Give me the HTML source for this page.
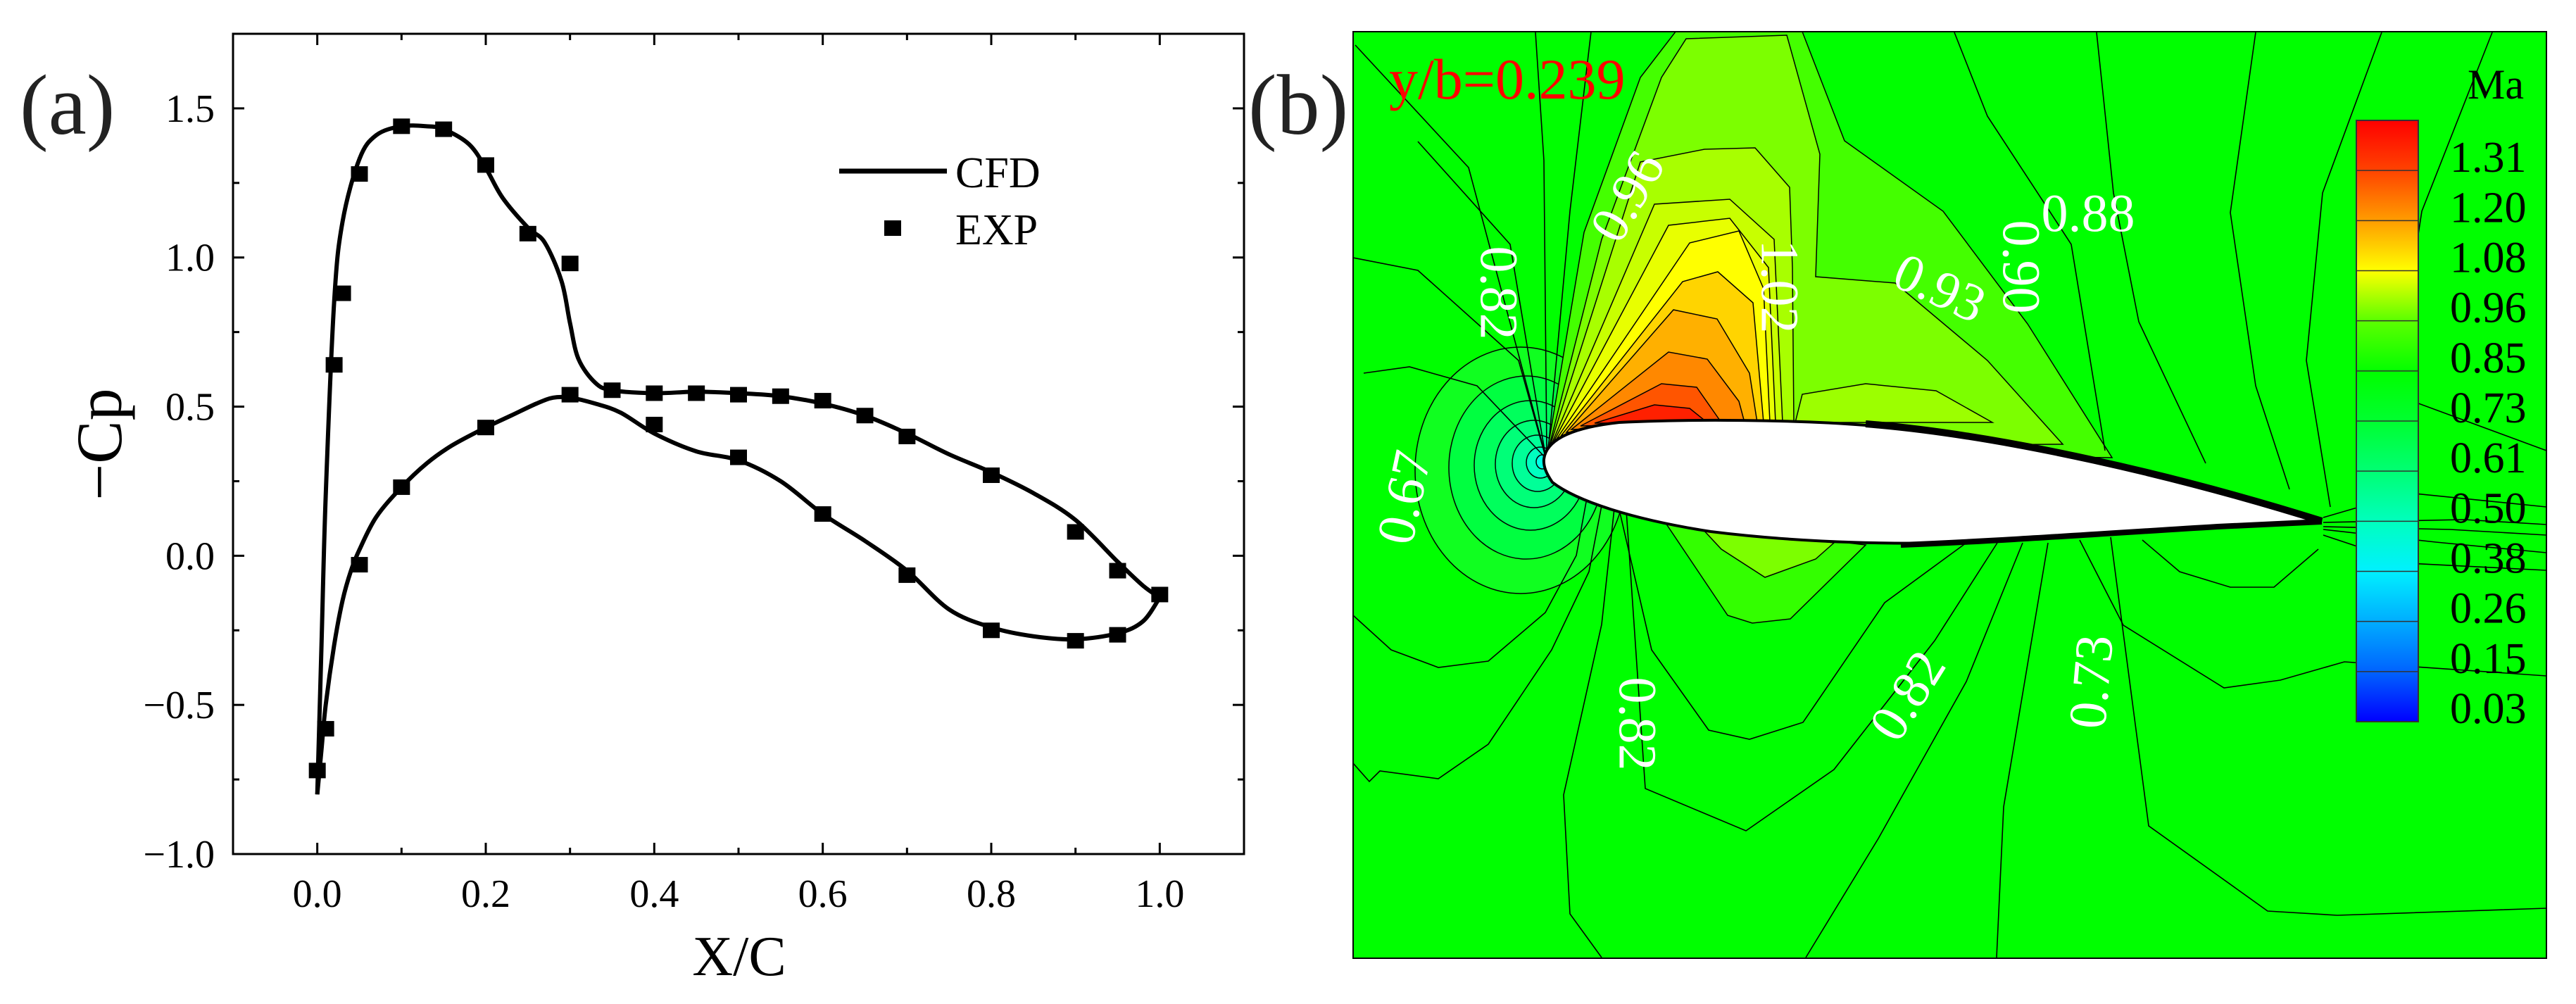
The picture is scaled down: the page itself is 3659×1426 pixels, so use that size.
<!DOCTYPE html>
<html><head><meta charset="utf-8">
<style>
html,body{margin:0;padding:0;background:#fff;}
svg{display:block;}
text{font-family:"Liberation Serif",serif;}
</style></head>
<body>
<svg id="fig" width="3659" height="1426" viewBox="0 0 3659 1426" xmlns="http://www.w3.org/2000/svg">
<rect x="0" y="0" width="3659" height="1426" fill="#fff"/>
<g id="panelA"></g>

<g id="panelB">
  <defs>
    <clipPath id="fclip"><rect x="1922" y="45" width="1695" height="1316"/></clipPath>
  </defs>
  <g clip-path="url(#fclip)">
    <rect x="1922" y="45" width="1695" height="1316" fill="#00ff00"/>
    <g stroke="#000" stroke-width="1.5">
      <ellipse cx="2160" cy="668" rx="150" ry="175" fill="#10ff20"/>
      <ellipse cx="2168" cy="664" rx="110" ry="130" fill="#00ff40"/>
      <ellipse cx="2174" cy="661" rx="80" ry="92" fill="#00ff5c"/>
      <ellipse cx="2179" cy="659" rx="55" ry="62" fill="#00ff78"/>
      <ellipse cx="2184" cy="658" rx="36" ry="40" fill="#00ff98"/>
      <ellipse cx="2188" cy="657" rx="20" ry="22" fill="#00ffc0"/>
      <ellipse cx="2191" cy="656" rx="9" ry="10" fill="#00ffe8"/>
    </g>
    <g stroke="#000" stroke-width="1.5">
      <polygon fill="#44ff00" points="2198,640 2250,330 2330,110 2380,45 2560,45 2620,200 2760,300 2880,460 3000,650"/>
      <polygon fill="#7cff00" points="2200,636 2275,340 2360,110 2395,55 2538,50 2585,219 2579,393 2692,402 2823,512 2930,631"/>
      <polygon fill="#9cff00" points="2550,600 2560,560 2650,545 2750,555 2830,600"/>
      <polygon fill="#a8ff00" points="2202,632 2330,230 2421,212 2493,210 2542,266 2546,380 2548,600"/>
      <polygon fill="#c8ff00" points="2205,628 2350,290 2457,283 2520,340 2532,600"/>
      <polygon fill="#e8ff00" points="2208,625 2370,320 2457,310 2512,380 2522,600"/>
      <polygon fill="#ffff00" points="2212,622 2400,345 2470,328 2505,410 2514,600"/>
      <polygon fill="#ffd400" points="2218,618 2390,400 2440,386 2490,430 2505,600"/>
      <polygon fill="#ffb000" points="2225,614 2377,440 2439,453 2485,530 2496,600"/>
      <polygon fill="#ff8800" points="2232,610 2370,500 2425,510 2470,570 2478,600"/>
      <polygon fill="#ff5500" points="2245,605 2360,545 2410,550 2445,600"/>
      <polygon fill="#ff2000" points="2265,601 2350,575 2400,580 2425,600"/>
    </g>
    <g stroke="#000" stroke-width="1.5">
      <polygon fill="#33ff00" points="2364,740 2454,874 2489,885 2543,879 2650,774"/>
      <polygon fill="#7cff00" points="2418,751 2445,780 2507,820 2579,794 2605,771"/>
    </g>
    <g fill="none" stroke="#000" stroke-width="1.6">
      <polyline points="1922,874 1976,923 2043,948 2114,939 2195,870 2239,789 2253,713"/>
      <polyline points="1922,1084 1945,1110 1960,1095 2043,1106 2114,1057 2204,923 2257,812 2275,718"/>
      <polyline points="2275,1360 2230,1298 2221,1129 2275,887 2293,722"/>
      <polyline points="2310,725 2337,1120 2480,1180 2605,1093 2748,910 2837,771"/>
      <polyline points="2300,724 2346,923 2427,1037 2485,1050 2561,1026 2677,856 2793,771"/>
      <polyline points="2565,1360 2668,1191 2793,968 2873,771"/>
      <polyline points="2836,1360 2846,1146 2909,771"/>
      <polyline points="2998,763 3052,1173 3221,1294 3320,1300 3617,1290"/>
      <polyline points="3043,767 3096,812 3168,834 3230,834 3293,780"/>
      <polyline points="2954,767 3016,888 3159,977 3239,966 3330,940 3617,960"/>
      <polyline points="1922,366 2014,384 2157,512 2195,648"/>
      <polyline points="1937,530 2002,521 2098,548 2195,650"/>
      <polyline points="2014,201 2145,347 2195,646"/>
      <polyline points="1925,64 2086,238 2195,646"/>
      <polyline points="2181,46 2193,228 2197,640"/>
      <polyline points="2260,45 2230,300 2199,640"/>
      <polyline points="2776,46 2823,165 2942,347 2990,640"/>
      <polyline points="2978,46 3002,274 3038,457 3133,658"/>
      <polyline points="3204,46 3168,302 3204,548 3252,695"/>
      <polyline points="3383,46 3299,274 3276,512 3310,720"/>
      <polyline points="3540,46 3440,300 3400,560 3617,640"/>
      <polyline points="3300,735 3420,700 3617,720"/>
      <polyline points="3300,742 3500,738 3617,745"/>
      <polyline points="3300,748 3480,752 3617,760"/>
      <polyline points="3300,752 3460,770 3617,785"/>
      <polyline points="3300,760 3420,800 3617,810"/>
    </g>
    <g>
      <path d="M2193,652 C2196,628 2225,608 2300,600 C2400,595 2550,596 2650,604 C2850,620 3100,680 3298,740 C3150,748 3000,757 2850,768 C2700,776 2550,770 2430,755 C2320,738 2240,712 2205,685 C2196,672 2192,662 2193,652 Z" fill="#fff" stroke="#000" stroke-width="4"/>
      <path d="M2650,602 C2850,618 3100,678 3298,740" fill="none" stroke="#000" stroke-width="10"/>
      <path d="M2700,774 C2850,768 3000,757 3150,748 L3298,741" fill="none" stroke="#000" stroke-width="8"/>
    </g>
    <g fill="#fff" font-size="76">
      <text transform="translate(2318,283) rotate(-60)" text-anchor="middle" dominant-baseline="middle">0.96</text>
      <text transform="translate(2121,416) rotate(90)" text-anchor="middle" dominant-baseline="middle">0.82</text>
      <text transform="translate(2520,407) rotate(90)" text-anchor="middle" dominant-baseline="middle">1.02</text>
      <text transform="translate(2752,416) rotate(25)" text-anchor="middle" dominant-baseline="middle">0.93</text>
      <text transform="translate(2863,379) rotate(90)" text-anchor="middle" dominant-baseline="middle">0.90</text>
      <text x="2966" y="311" text-anchor="middle" dominant-baseline="middle">0.88</text>
      <text transform="translate(2002,708) rotate(-78)" text-anchor="middle" dominant-baseline="middle">0.67</text>
      <text transform="translate(2318,1028) rotate(90)" text-anchor="middle" dominant-baseline="middle">0.82</text>
      <text transform="translate(2716,992) rotate(-58)" text-anchor="middle" dominant-baseline="middle">0.82</text>
      <text transform="translate(2978,969) rotate(-85)" text-anchor="middle" dominant-baseline="middle">0.73</text>
    </g>
  </g>
  <rect x="1922" y="45" width="1695" height="1316" fill="none" stroke="#000" stroke-width="2"/>
  <text x="1973" y="140" font-size="82" fill="#ff0000">y/b=0.239</text>
  <text x="1773" y="190" font-size="122" fill="#222">(b)</text>
  <g>
    <defs>
      <linearGradient id="cbg" x1="0" y1="1" x2="0" y2="0">
        <stop offset="0" stop-color="#0000ff"/>
        <stop offset="0.08" stop-color="#0060ff"/>
        <stop offset="0.17" stop-color="#00b0ff"/>
        <stop offset="0.25" stop-color="#00f0ff"/>
        <stop offset="0.33" stop-color="#00ffc0"/>
        <stop offset="0.42" stop-color="#00ff70"/>
        <stop offset="0.50" stop-color="#00ff30"/>
        <stop offset="0.58" stop-color="#00ff00"/>
        <stop offset="0.67" stop-color="#60ff00"/>
        <stop offset="0.75" stop-color="#ffff00"/>
        <stop offset="0.83" stop-color="#ffa000"/>
        <stop offset="0.92" stop-color="#ff4000"/>
        <stop offset="1" stop-color="#ff0000"/>
      </linearGradient>
    </defs>
    <rect x="3347" y="171" width="88" height="854" fill="url(#cbg)" stroke="#333" stroke-width="2"/>
    <g id="cbLines" stroke="#333" stroke-width="1.5"></g>
    <text x="3505" y="140" font-size="60" fill="#000">Ma</text>
    <g id="cbLabels" font-size="62" fill="#000"></g>
  </g>
</g>
</svg>
<script>
var cfdUpperX = [0,0.005,0.01,0.02,0.03,0.05,0.07,0.1,0.13,0.15,0.18,0.2,0.22,0.25,0.27,0.29,0.3,0.31,0.33,0.35,0.4,0.45,0.5,0.55,0.6,0.65,0.7,0.75,0.8,0.85,0.9,0.95,0.98,1.0];
var cfdUpperY = [-0.8,-0.3,0.2,0.85,1.12,1.33,1.41,1.44,1.44,1.43,1.38,1.3,1.2,1.1,1.05,0.92,0.78,0.66,0.58,0.555,0.545,0.55,0.545,0.535,0.51,0.47,0.41,0.34,0.28,0.21,0.12,-0.02,-0.1,-0.14];
var cfdLowerX = [0,0.005,0.01,0.02,0.03,0.04,0.05,0.07,0.1,0.13,0.16,0.2,0.23,0.26,0.28,0.3,0.33,0.36,0.4,0.45,0.5,0.55,0.6,0.65,0.7,0.75,0.8,0.85,0.9,0.95,0.98,1.0];
var cfdLowerY = [-0.8,-0.65,-0.5,-0.3,-0.15,-0.05,0.02,0.13,0.23,0.31,0.37,0.43,0.47,0.51,0.53,0.53,0.51,0.48,0.41,0.35,0.32,0.25,0.14,0.05,-0.05,-0.18,-0.24,-0.27,-0.28,-0.26,-0.22,-0.14];
var expX = [0,0.01,0.02,0.03,0.05,0.1,0.15,0.2,0.25,0.3,0.35,0.4,0.45,0.5,0.55,0.6,0.65,0.7,0.8,0.9,0.95,1.0,0.05,0.1,0.2,0.3,0.4,0.5,0.6,0.7,0.8,0.9,0.95];
var expY = [-0.72,-0.58,0.64,0.88,1.28,1.44,1.43,1.31,1.08,0.98,0.555,0.545,0.545,0.54,0.535,0.52,0.47,0.40,0.27,0.08,-0.05,-0.13,-0.03,0.23,0.43,0.54,0.44,0.33,0.14,-0.065,-0.25,-0.285,-0.265];
var xTicks = [0,0.2,0.4,0.6,0.8,1.0];
var xTickLabels = ["0.0","0.2","0.4","0.6","0.8","1.0"];
var yTicks = [-1.0,-0.5,0,0.5,1.0,1.5];
var yTickLabels = ["\u22121.0","\u22120.5","0.0","0.5","1.0","1.5"];
var cbLabels = ["1.31","1.20","1.08","0.96","0.85","0.73","0.61","0.50","0.38","0.26","0.15","0.03"];

var NS = "http://www.w3.org/2000/svg";
var X0=331, X1=1767, Y0=48, Y1=1213;
var xMin=-0.1, xMax=1.1, yMin=-1.0, yMax=1.75;
function sx(v){return X0+(v-xMin)/(xMax-xMin)*(X1-X0);}
function sy(v){return Y1-(v-yMin)/(yMax-yMin)*(Y1-Y0);}
function mk(tag, attrs, parent){var e=document.createElementNS(NS,tag);for(var k in attrs)e.setAttribute(k,attrs[k]);parent.appendChild(e);return e;}
var A=document.getElementById('panelA');

var frame=mk('rect',{x:X0,y:Y0,width:X1-X0,height:Y1-Y0,fill:'none',stroke:'#000','stroke-width':3},A);



var tg=mk('g',{stroke:'#000','stroke-width':3},A);


for(var v=-0.1;v<=1.1001;v+=0.1){var px=sx(v);var major=Math.abs(Math.round(v*10)%2)===0;var L=major?16:9;
  mk('line',{x1:px,y1:Y1,x2:px,y2:Y1-L},tg);mk('line',{x1:px,y1:Y0,x2:px,y2:Y0+L},tg);}
for(var w=-1.0;w<=1.7501;w+=0.25){var py=sy(w);var maj=Math.abs(Math.round(w*4)%2)===0;var L2=maj?16:9;
  mk('line',{x1:X0,y1:py,x2:X0+L2,y2:py},tg);mk('line',{x1:X1,y1:py,x2:X1-L2,y2:py},tg);}

for(var i=0;i<xTicks.length;i++){var t=mk('text',{x:sx(xTicks[i]),y:1288,'font-size':56,'text-anchor':'middle',fill:'#000'},A);t.textContent=xTickLabels[i];
  
  }
for(var j=0;j<yTicks.length;j++){var t2=mk('text',{x:305,y:sy(yTicks[j])+19,'font-size':56,'text-anchor':'end',fill:'#000'},A);t2.textContent=yTickLabels[j];
  
  }

var xt=mk('text',{x:1050,y:1385,'font-size':80,'text-anchor':'middle',fill:'#000'},A);xt.textContent='X/C';


var yt=mk('text',{transform:'translate(172,631) rotate(-90)','font-size':92,'text-anchor':'middle',fill:'#000'},A);yt.textContent='\u2212Cp';


var pa=mk('text',{x:28,y:190,'font-size':122,fill:'#222'},A);pa.textContent='(a)';



function smooth(xs,ys){var p=xs.map(function(x,i){return [sx(x),sy(ys[i])];});var d='M'+p[0][0]+','+p[0][1];
  for(var i=0;i<p.length-1;i++){var p0=p[Math.max(0,i-1)],p1=p[i],p2=p[i+1],p3=p[Math.min(p.length-1,i+2)];
    var c1=[p1[0]+(p2[0]-p0[0])/6,p1[1]+(p2[1]-p0[1])/6],c2=[p2[0]-(p3[0]-p1[0])/6,p2[1]-(p3[1]-p1[1])/6];
    d+=' C'+c1[0]+','+c1[1]+' '+c2[0]+','+c2[1]+' '+p2[0]+','+p2[1];}return d;}
var cu=mk('path',{d:smooth(cfdUpperX,cfdUpperY),fill:'none',stroke:'#000','stroke-width':6,'stroke-linejoin':'round'},A);


var cl=mk('path',{d:smooth(cfdLowerX,cfdLowerY),fill:'none',stroke:'#000','stroke-width':6,'stroke-linejoin':'round'},A);


var eg=mk('g',{fill:'#000'},A);


for(var k=0;k<expX.length;k++){var r=mk('rect',{x:sx(expX[k])-12,y:sy(expY[k])-11,width:24,height:22},eg);
  
  }

var lg=mk('g',{},A);


mk('line',{x1:1192,y1:243,x2:1345,y2:243,stroke:'#000','stroke-width':7},lg);
var l1=mk('text',{x:1357,y:266,'font-size':62,fill:'#000'},lg);l1.textContent='CFD';


mk('rect',{x:1256,y:313,width:24,height:22,fill:'#000'},lg);
var l2=mk('text',{x:1357,y:347,'font-size':62,fill:'#000'},lg);l2.textContent='EXP';



var cbL=document.getElementById('cbLines'), cbT=document.getElementById('cbLabels');
var cbTop=171, cbBand=854/12;
for(var b=1;b<12;b++){mk('line',{x1:3347,x2:3435,y1:cbTop+b*cbBand,y2:cbTop+b*cbBand},cbL);}
for(var c=0;c<cbLabels.length;c++){var ct=mk('text',{x:3480,y:cbTop+(c+1)*cbBand+2},cbT);ct.textContent=cbLabels[c];
  
  }
</script>
</body></html>
